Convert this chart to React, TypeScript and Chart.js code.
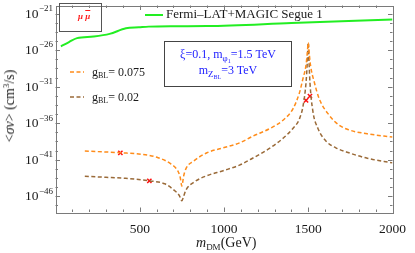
import React, { useEffect, useRef } from "react";
import { Chart, registerables } from "chart.js";

Chart.register(...registerables);

// ---- data (log10 of <σv> in cm^3/s) ----
const mDM_075 = [174, 280, 385, 512, 609, 686, 725, 740, 750, 760, 773, 821, 899, 995, 1092, 1170, 1275, 1352, 1410, 1449, 1468, 1486, 1494, 1500, 1506, 1514, 1536, 1565, 1623, 1681, 1739, 1850, 2000];
const logSv_075 = [-39.82, -39.92, -40.05, -40.26, -40.72, -41.6, -42.5, -43.4, -44.6, -43.3, -42.28, -41.16, -40.05, -39.37, -38.7, -37.8, -36.69, -35.56, -34.0, -31.75, -29.96, -28.16, -26.5, -25.0, -26.5, -28.16, -30.4, -32.65, -34.88, -36.23, -36.9, -37.45, -37.9];

const mDM_002 = [174, 300, 416, 557, 648, 705, 735, 750, 762, 773, 821, 899, 995, 1092, 1159, 1275, 1352, 1410, 1449, 1470, 1487, 1494, 1500, 1505, 1510, 1528, 1557, 1606, 1664, 1741, 1850, 2000];
const logSv_002 = [-43.27, -43.4, -43.54, -43.89, -44.29, -45.19, -45.9, -46.6, -45.9, -45.19, -44.08, -43.18, -42.5, -41.74, -40.93, -39.37, -38.03, -36.69, -35.34, -33.54, -30.4, -27.8, -25.0, -27.8, -30.4, -34.44, -36.69, -38.47, -39.37, -40.05, -40.8, -41.43];

const mDM_fermi = [32, 80, 128, 225, 321, 418, 495, 553, 700, 900, 1400, 2000];
const logSv_fermi = [-25.48, -24.9, -24.36, -24.14, -23.78, -23.02, -22.89, -22.79, -22.73, -22.71, -22.3, -21.81];

const markM = [385, 557, 1487, 1510];
const markLog = [-40.05, -43.89, -32.87, -32.29];

const xTickLabels = [500, 1000, 1500, 2000];
const yTickExps = [-21, -26, -31, -36, -41, -46];

const Y_MIN_EXP = -48.15;
const Y_MAX_EXP = -19.9;

const ORANGE = "#ff8c1a";
const BROWN = "#9a6a38";
const GREEN = "#22ee22";

const toPts = (xs: number[], ls: number[]) => xs.map((x, i) => ({ x, y: Math.pow(10, ls[i]) }));

const SERIF = '"Liberation Serif", "DejaVu Serif", serif';

const framePlugin = {
  id: "frame",
  beforeDatasetsDraw(chart: any) {
    const { ctx, chartArea } = chart;
    const { left, right, top, bottom } = chartArea;
    const xs = chart.scales.x;
    const ys = chart.scales.y;
    ctx.save();
    ctx.strokeStyle = "#7a7a7a";
    ctx.lineWidth = 1;
    ctx.strokeRect(Math.round(left) + 0.5, Math.round(top) + 0.5, Math.round(right - left), Math.round(bottom - top));
    ctx.beginPath();
    for (let v = 100; v < 2000; v += 100) {
      const px = Math.round(xs.getPixelForValue(v)) + 0.5;
      const len = v % 500 === 0 ? 4.5 : 2.5;
      ctx.moveTo(px, bottom);
      ctx.lineTo(px, bottom - len);
      ctx.moveTo(px, top);
      ctx.lineTo(px, top + len);
    }
    const exps: number[] = [];
    for (let k = -2; k < 30; k++) {
      const e = -21 - k * 1.25;
      if (e < Y_MAX_EXP && e > Y_MIN_EXP) exps.push(e);
    }
    exps.forEach((e) => {
      const py = Math.round(ys.getPixelForValue(Math.pow(10, e))) + 0.5;
      const major = yTickExps.includes(Math.round(e * 100) / 100);
      const len = major ? 4.5 : 2.5;
      ctx.moveTo(left, py);
      ctx.lineTo(left + len, py);
      ctx.moveTo(right, py);
      ctx.lineTo(right - len, py);
    });
    ctx.stroke();
    ctx.restore();
  },
  afterDraw(chart: any) {
    const { ctx } = chart;
    const ys = chart.scales.y;
    ctx.save();
    ctx.fillStyle = "#1a1a1a";
    yTickExps.forEach((e) => {
      const py = ys.getPixelForValue(Math.pow(10, e));
      const expStr = "\u2212" + String(Math.abs(e));
      ctx.font = `9px ${SERIF}`;
      const we = ctx.measureText(expStr).width;
      const rightEdge = 53;
      ctx.textAlign = "left";
      ctx.textBaseline = "middle";
      ctx.fillText(expStr, rightEdge - we, py - 5);
      ctx.font = `13.5px ${SERIF}`;
      ctx.textAlign = "right";
      ctx.fillText("10", rightEdge - we - 0.5, py + 0.5);
    });
    // legend dashes
    ctx.lineWidth = 1.5;
    ctx.setLineDash([4, 2.5]);
    ctx.strokeStyle = ORANGE;
    ctx.beginPath();
    ctx.moveTo(70, 72);
    ctx.lineTo(84, 72);
    ctx.stroke();
    ctx.strokeStyle = BROWN;
    ctx.beginPath();
    ctx.moveTo(70, 97);
    ctx.lineTo(84, 97);
    ctx.stroke();
    ctx.setLineDash([]);
    ctx.lineWidth = 2;
    ctx.strokeStyle = GREEN;
    ctx.beginPath();
    ctx.moveTo(145, 15);
    ctx.lineTo(163, 15);
    ctx.stroke();
    ctx.restore();
  },
};

const sub = (fs: number, dy: number): React.CSSProperties => ({ fontSize: fs, position: "relative", top: dy });

export default function App() {
  const ref = useRef<HTMLCanvasElement | null>(null);
  useEffect(() => {
    if (!ref.current) return;
    const chart = new Chart(ref.current, {
      type: "line",
      data: {
        datasets: [
          {
            label: "Fermi-LAT+MAGIC Segue 1",
            data: toPts(mDM_fermi, logSv_fermi),
            borderColor: GREEN,
            borderWidth: 2,
            pointRadius: 0,
            cubicInterpolationMode: "monotone",
            fill: false,
          },
          {
            label: "gBL = 0.075",
            data: toPts(mDM_075, logSv_075),
            borderColor: ORANGE,
            borderWidth: 1.5,
            borderDash: [4, 2.5],
            pointRadius: 0,
            cubicInterpolationMode: "monotone",
            fill: false,
          },
          {
            label: "gBL = 0.02",
            data: toPts(mDM_002, logSv_002),
            borderColor: BROWN,
            borderWidth: 1.5,
            borderDash: [4, 2.5],
            pointRadius: 0,
            cubicInterpolationMode: "monotone",
            fill: false,
          },
          {
            label: "marks",
            data: toPts(markM, markLog),
            showLine: false,
            pointStyle: "crossRot",
            pointRadius: 3,
            borderColor: "#ff1010",
            borderWidth: 1.5,
          } as any,
        ],
      },
      options: {
        animation: false,
        responsive: false,
        maintainAspectRatio: false,
        devicePixelRatio: 1,
        layout: { padding: { top: 2, right: 16, left: 0, bottom: 0 } },
        plugins: { legend: { display: false }, tooltip: { enabled: false } },
        scales: {
          x: {
            type: "linear",
            min: 0,
            max: 2000,
            grid: { display: false, drawTicks: false },
            border: { display: false },
            afterBuildTicks: (s: any) => {
              s.ticks = xTickLabels.map((v) => ({ value: v }));
            },
            ticks: {
              autoSkip: false,
              maxRotation: 0,
              padding: 9,
              color: "#1a1a1a",
              font: { family: SERIF, size: 13.5 },
              callback: (v: any) => String(v),
            },
            afterFit: (s: any) => {
              s.height = 41;
            },
          },
          y: {
            type: "logarithmic",
            min: Math.pow(10, Y_MIN_EXP),
            max: Math.pow(10, Y_MAX_EXP),
            grid: { display: false, drawTicks: false },
            border: { display: false },
            ticks: { display: false },
            afterFit: (s: any) => {
              s.width = 55.5;
            },
          },
        },
      } as any,
      plugins: [framePlugin],
    });
    return () => chart.destroy();
  }, []);

  const base: React.CSSProperties = { position: "absolute", fontFamily: SERIF, whiteSpace: "nowrap", lineHeight: 1 };

  return (
    <div style={{ position: "fixed", left: 0, top: 0, width: 415, height: 253, background: "#fff" }}>
      <canvas ref={ref} width={415} height={253} style={{ position: "absolute", left: 0, top: 0, width: 415, height: 253 }} />
      {/* mu mu-bar box */}
      <div style={{ position: "absolute", left: 59, top: 3, width: 41, height: 27, border: "1px solid #555" }} />
      <div style={{ ...base, left: 78, top: 12, color: "#ff1a1a", fontSize: 9, fontStyle: "italic", fontWeight: "bold" }}>
        μ <span style={{ textDecoration: "overline" }}>μ</span>
      </div>
      {/* Fermi legend text */}
      <div style={{ ...base, left: 166, top: 7, fontSize: 13, color: "#1a1a1a" }}>Fermi–LAT+MAGIC Segue 1</div>
      {/* parameter box */}
      <div style={{ position: "absolute", left: 164, top: 41, width: 126, height: 44, border: "1px solid #444" }} />
      <div style={{ ...base, left: 164, width: 128, textAlign: "center", top: 48, fontSize: 12, color: "#2222ff" }}>
        ξ=0.1, m<span style={sub(9, 3)}>φ<span style={sub(6, 2)}>1</span></span>=1.5 TeV
      </div>
      <div style={{ ...base, left: 164, width: 128, textAlign: "center", top: 64, fontSize: 12, color: "#2222ff" }}>
        m<span style={sub(9, 3)}>Z<span style={sub(6, 2)}>BL</span></span>=3 TeV
      </div>
      {/* g_BL legend text */}
      <div style={{ ...base, left: 92, top: 66, fontSize: 12, color: "#1a1a1a" }}>
        g<span style={sub(8, 2)}>BL</span>= 0.075
      </div>
      <div style={{ ...base, left: 92, top: 91, fontSize: 12, color: "#1a1a1a" }}>
        g<span style={sub(8, 2)}>BL</span>= 0.02
      </div>
      {/* x-axis title */}
      <div style={{ ...base, left: 196, top: 236, fontSize: 14, color: "#1a1a1a" }}>
        <span style={{ fontStyle: "italic" }}>m</span>
        <span style={sub(9, 3)}>DM</span>(GeV)
      </div>
      {/* y-axis title */}
      <div
        style={{
          ...base,
          left: 10,
          top: 106,
          fontSize: 14,
          color: "#1a1a1a",
          transform: "translate(-50%, -50%) rotate(-90deg)",
        }}
      >
        &lt;<span style={{ fontStyle: "italic" }}>σv</span>&gt; (cm<span style={sub(9, -5)}>3</span>/s)
      </div>
    </div>
  );
}
